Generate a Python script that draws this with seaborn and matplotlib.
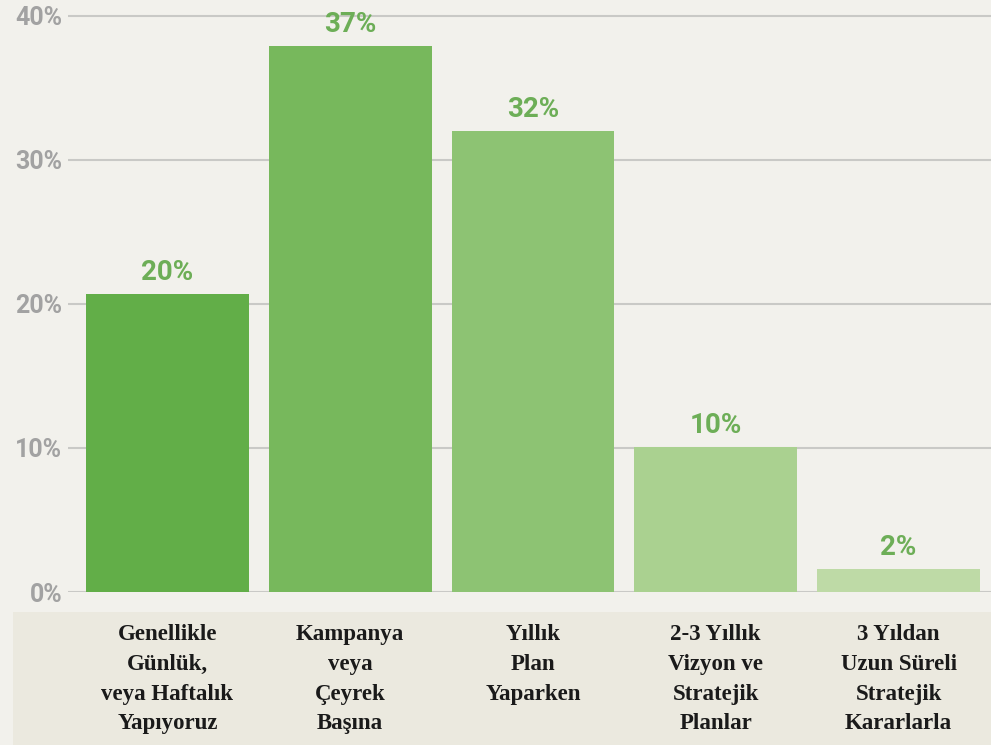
import matplotlib
matplotlib.use("Agg")
import matplotlib.pyplot as plt
import seaborn as sns
import pandas as pd
from matplotlib.patches import Rectangle

categories = [
    "Genellikle\nGünlük,\nveya Haftalık\nYapıyoruz",
    "Kampanya\nveya\nÇeyrek\nBaşına",
    "Yıllık\nPlan\nYaparken",
    "2-3 Yıllık\nVizyon ve\nStratejik\nPlanlar",
    "3 Yıldan\nUzun Süreli\nStratejik\nKararlarla",
]
values = [20.7, 37.9, 32.0, 10.1, 1.6]
value_labels = ["20%", "37%", "32%", "10%", "2%"]
yticks = [0, 10, 20, 30, 40]
ytick_labels = ["0%", "10%", "20%", "30%", "40%"]
bar_colors = ["#62ae48", "#77b85c", "#8dc373", "#aad190", "#bedaa6"]

sns.set_theme(style="white")
bg = "#f2f1ec"
fig = plt.figure(figsize=(9.91, 7.45), dpi=100, facecolor=bg)
# lower band
fig.patches.append(Rectangle((13 / 991, 0), 1, (745 - 612) / 745,
                             transform=fig.transFigure, facecolor="#ebe9df",
                             edgecolor="none", zorder=0))
ax = fig.add_axes([68 / 991, (745 - 592) / 745, 1 - 68 / 991, (592 - 10.2) / 745])
ax.set_zorder(2)
ax.set_facecolor("none")

df = pd.DataFrame({"cat": categories, "val": values})
sns.barplot(data=df, x="cat", y="val", hue="cat", palette=bar_colors,
            legend=False, width=0.89, saturation=1, ax=ax, zorder=3,
            linewidth=0, edgecolor="none")

ax.set_ylim(0, 40.4)
ax.set_xlim(-0.544, 4.506)
ax.set_yticks(yticks)
ax.set_yticklabels(ytick_labels, fontfamily="Roboto", fontweight="bold",
                   fontsize=18, color="#a2a2a2")
ax.grid(axis="y", color="#c9c9c6", linewidth=1.5, zorder=0)
ax.set_axisbelow(True)
ax.tick_params(axis="y", length=0, pad=4)
ax.tick_params(axis="x", length=0, pad=23)
ax.set_xticks(range(len(categories)))
ax.set_xticklabels(categories, fontfamily="Liberation Serif", fontweight="bold",
                   fontsize=16.5, color="#1a1a1a", linespacing=1.55, va="top")
ax.set_xlabel("")
ax.set_ylabel("")
for s in ax.spines.values():
    s.set_visible(False)

for i, (v, lab) in enumerate(zip(values, value_labels)):
    ax.annotate(lab, (i, v), xytext=(0, 10), textcoords="offset points",
                ha="center", va="baseline", fontfamily="Roboto",
                fontweight="bold", fontsize=20, color="#6dae57")

fig.savefig("out.png", dpi=100, facecolor=bg)
